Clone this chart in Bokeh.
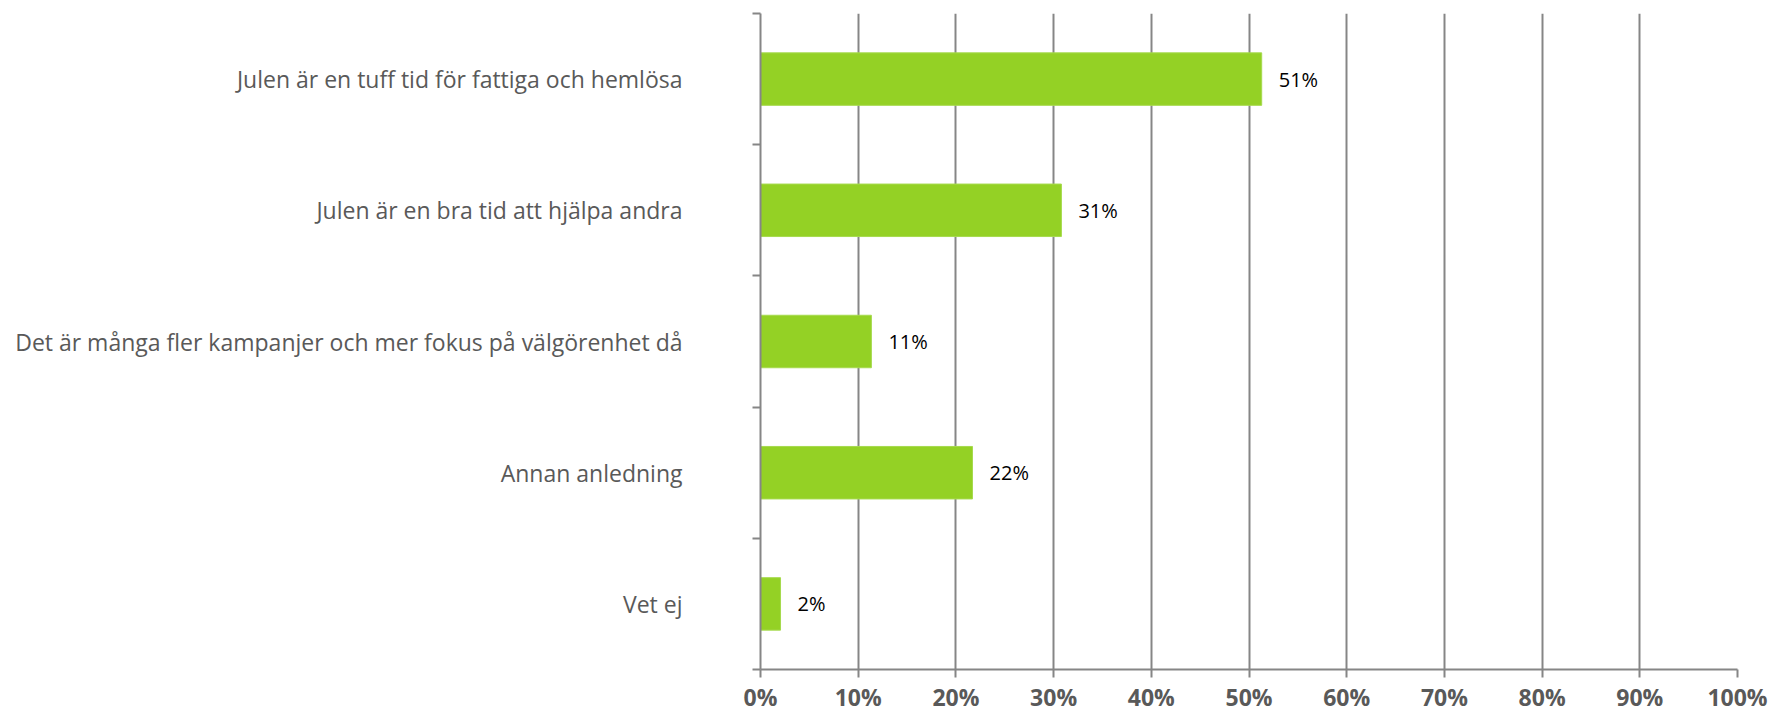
from bokeh.plotting import figure
from bokeh.models import Range1d, FixedTicker, PrintfTickFormatter, ColumnDataSource
from bokeh.core.properties import value
from bokeh.embed import file_html
from bokeh.resources import INLINE

categories = [
    "Julen är en tuff tid för fattiga och hemlösa",
    "Julen är en bra tid att hjälpa andra",
    "Det är många fler kampanjer och mer fokus på välgörenhet då",
    "Annan anledning",
    "Vet ej",
]
values = [51.3, 30.8, 11.35, 21.7, 2.05]
value_labels = ["51%", "31%", "11%", "22%", "2%"]
x_ticks = [0, 10, 20, 30, 40, 50, 60, 70, 80, 90, 100]

pos = [i + 0.5 for i in range(len(categories))]
src = ColumnDataSource(dict(y=pos, v=values, lab=value_labels, cat=categories))

FONT = "Open Sans"
GREY = "#595959"
LINE = "#868686"

p = figure(width=1769, height=715, output_backend="svg", toolbar_location=None,
           x_range=Range1d(0, 100), y_range=Range1d(len(categories), 0),
           min_border_left=760, min_border_right=32, min_border_top=13, min_border_bottom=46)
p.outline_line_color = None
p.background_fill_color = "white"
p.border_fill_color = "white"

p.hbar(y="y", left=0, right="v", height=0.4, source=src,
       fill_color="#94D125", line_color="#A6DA4E", line_width=1)
p.text(x="v", y="y", text="lab", source=src, x_offset=17,
       text_align="left", text_baseline="middle",
       text_font=value(FONT), text_font_size="20px", text_color="black")

# x axis
xa = p.xaxis[0]
xa.ticker = FixedTicker(ticks=x_ticks)
xa.formatter = PrintfTickFormatter(format="%d%%")
xa.axis_line_color = LINE
xa.axis_line_width = 2
xa.major_tick_line_color = LINE
xa.major_tick_line_width = 2
xa.major_tick_out = 8
xa.major_tick_in = 0
xa.minor_tick_line_color = None
xa.major_label_standoff = 3
xa.major_label_text_font = FONT
xa.major_label_text_font_size = "23px"
xa.major_label_text_font_style = "bold"
xa.major_label_text_color = GREY

# y axis
ya = p.yaxis[0]
ya.ticker = FixedTicker(ticks=pos, minor_ticks=list(range(len(categories) + 1)))
ya.major_label_overrides = {p_: c for p_, c in zip(pos, categories)}
ya.axis_line_color = LINE
ya.axis_line_width = 2
ya.major_tick_line_color = None
ya.major_tick_out = 0
ya.major_tick_in = 0
ya.minor_tick_line_color = LINE
ya.minor_tick_line_width = 2
ya.minor_tick_out = 8
ya.minor_tick_in = 0
ya.major_label_standoff = 70
ya.major_label_text_font = FONT
ya.major_label_text_font_size = "23px"
ya.major_label_text_color = GREY

p.xgrid.grid_line_color = LINE
p.xgrid.grid_line_width = 2
p.xgrid.ticker = FixedTicker(ticks=x_ticks)
p.ygrid.grid_line_color = None

open("out.html", "w").write(file_html(p, INLINE))
